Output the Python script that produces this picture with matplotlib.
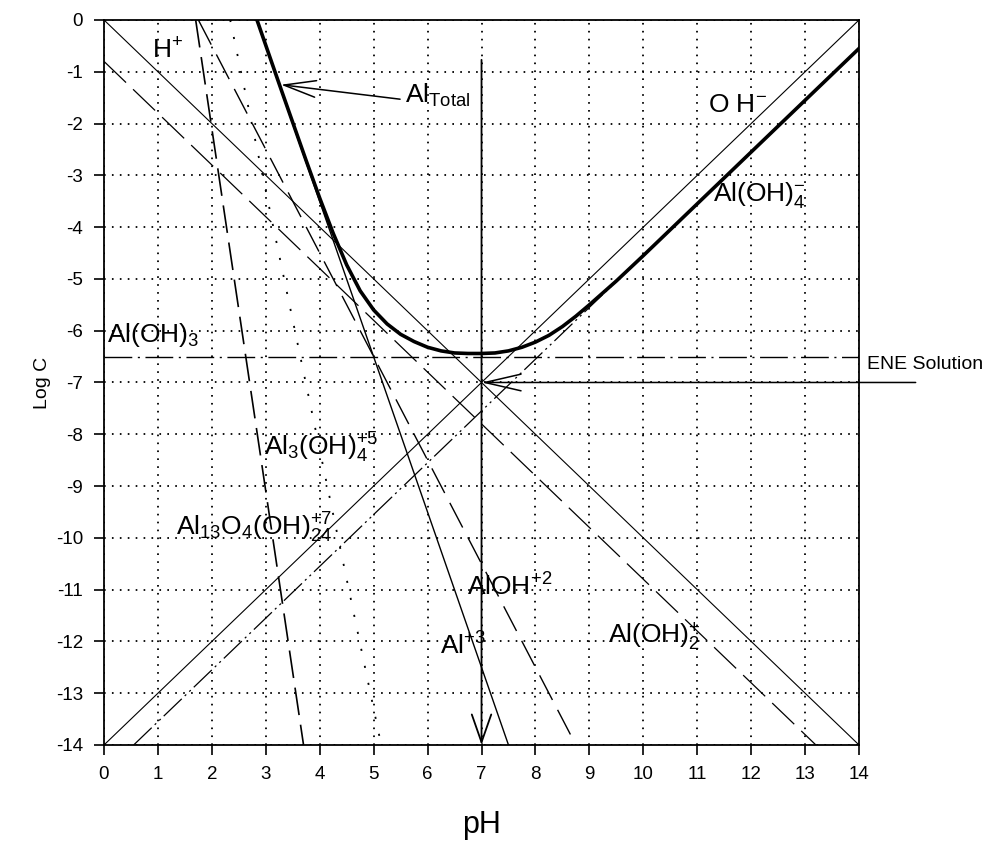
import matplotlib.pyplot as plt

plt.rcParams['font.family'] = ['Liberation Sans', 'DejaVu Sans']
plt.rcParams['mathtext.fontset'] = 'custom'
plt.rcParams['mathtext.rm'] = 'Liberation Sans'
plt.rcParams['mathtext.it'] = 'Liberation Sans'
plt.rcParams['lines.scale_dashes'] = False
plt.rcParams['axes.unicode_minus'] = False

# species lines, end points (pH, log C)
h_ph, h_log = [0, 14], [0, -14]
oh_ph, oh_log = [0, 14], [-14, 0]
al3_ph, al3_log = [2.83, 7.5], [0, -14]
aloh_ph, aloh_log = [1.75, 8.75], [0, -14]
aloh2_ph, aloh2_log = [0, 13.2], [-0.8, -14]
aloh3_ph, aloh3_log = [0, 14], [-6.5, -6.5]
aloh4_ph, aloh4_log = [0.55, 14], [-14, -0.55]
al3oh4_ph, al3oh4_log = [2.34, 5.14], [0, -14]
al13_ph, al13_log = [1.7, 3.7], [0, -14]

# Al total curve
total_ph = [2.85, 3.0, 3.25, 3.5, 3.75, 4.0, 4.25, 4.5, 4.75, 5.0, 5.25, 5.5,
            5.75, 6.0, 6.25, 6.5, 6.75, 7.0, 7.25, 7.5, 7.75, 8.0, 8.25, 8.5,
            8.75, 9.0, 9.5, 10, 11, 12, 13, 14]
total_log = [-0.04, -0.49, -1.24, -1.98, -2.72, -3.44, -4.12, -4.73, -5.23,
             -5.60, -5.87, -6.07, -6.21, -6.32, -6.39, -6.43, -6.44, -6.44,
             -6.43, -6.39, -6.32, -6.22, -6.09, -5.92, -5.72, -5.50, -5.04,
             -4.55, -3.55, -2.55, -1.55, -0.55]

ene_ph, ene_log = 7, -7

fig = plt.figure(figsize=(9.99, 8.46), dpi=100)
ax = fig.add_axes([0.1041, 0.1194, 0.7558, 0.8570])

k = 'black'
ax.plot(h_ph, h_log, color=k, lw=0.8)
ax.plot(oh_ph, oh_log, color=k, lw=0.8)
ax.plot(al3_ph, al3_log, color=k, lw=1.0)
ax.plot(aloh_ph, aloh_log, color=k, lw=1.0, ls=(0, (20, 8)))
ax.plot(aloh2_ph, aloh2_log, color=k, lw=0.9, ls=(0, (22, 7)))
ax.plot(aloh3_ph, aloh3_log, color=k, lw=1.0, ls=(0, (20, 4, 1.5, 4)))
ax.plot(aloh4_ph, aloh4_log, color=k, lw=0.9, ls=(0, (18, 3, 1.5, 3, 1.5, 3)))
ax.plot(al3oh4_ph, al3oh4_log, color=k, lw=1.3, ls=(0, (1.5, 11)))
ax.plot(al13_ph, al13_log, color=k, lw=1.2, ls=(0, (20, 7)))
ax.plot(total_ph, total_log, color=k, lw=2.6, solid_joinstyle='round')

# ENE markers
ax.annotate('', xy=(ene_ph, -14), xytext=(ene_ph, -0.77),
            arrowprops=dict(arrowstyle='->,head_length=2.0,head_width=0.7',
                            lw=1.3, color=k, mutation_scale=10,
                            shrinkA=0, shrinkB=0))
ax.annotate('', xy=(ene_ph, ene_log), xytext=(15.05, ene_log),
            arrowprops=dict(arrowstyle='->,head_length=2.6,head_width=0.6',
                            lw=1.1, color=k, mutation_scale=10,
                            shrinkA=0, shrinkB=0), annotation_clip=False)
ax.text(14.15, -6.66, 'ENE Solution', fontsize=14, va='center', ha='left')

# Al total label and arrow
ax.annotate('', xy=(3.28, -1.25), xytext=(5.49, -1.53),
            arrowprops=dict(arrowstyle='->,head_length=2.3,head_width=0.6',
                            lw=1.1, color=k, mutation_scale=10,
                            shrinkA=0, shrinkB=0))
ax.text(5.58, -1.45, r'Al$_{\mathregular{Total}}$', fontsize=19, va='center')

fs = 19
ax.text(0.89, -0.6, r'H$^{+}$', fontsize=fs, va='center')
ax.text(11.2, -1.64, r'O H$^{-}$', fontsize=fs, va='center')
ax.text(11.29, -3.38, r'Al(OH)$_4^{-}$', fontsize=fs, va='center')
ax.text(0.05, -6.08, r'Al(OH)$_3$', fontsize=fs, va='center')
ax.text(2.97, -8.26, r'Al$_3$(OH)$_4^{+5}$', fontsize=fs, va='center')
ax.text(1.33, -9.81, r'Al$_{13}$O$_4$(OH)$_{24}^{+7}$', fontsize=fs, va='center')
ax.text(6.73, -10.95, r'AlOH$^{+2}$', fontsize=fs, va='center')
ax.text(6.23, -12.08, r'Al$^{+3}$', fontsize=fs, va='center')
ax.text(9.35, -11.91, r'Al(OH)$_2^{+}$', fontsize=fs, va='center')

ax.set_xlim(0, 14)
ax.set_ylim(-14, 0)
ax.set_xticks(range(0, 15))
ax.set_yticks(range(-14, 1))
ax.tick_params(direction='out', length=7, width=1.2, labelsize=13.5, pad=8)
ax.grid(True, color=k, lw=1.3, ls=(0, (1.2, 4.5)))
ax.set_axisbelow(True)
for s in ax.spines.values():
    s.set_linewidth(1.3)

ax.set_xlabel('pH', fontsize=22, va='center')
ax.xaxis.set_label_coords(0.5, -0.11)
ax.set_ylabel('Log C', fontsize=14, va='center')
ax.yaxis.set_label_coords(-0.082, 0.5)

fig.savefig('out.png', dpi=100)
